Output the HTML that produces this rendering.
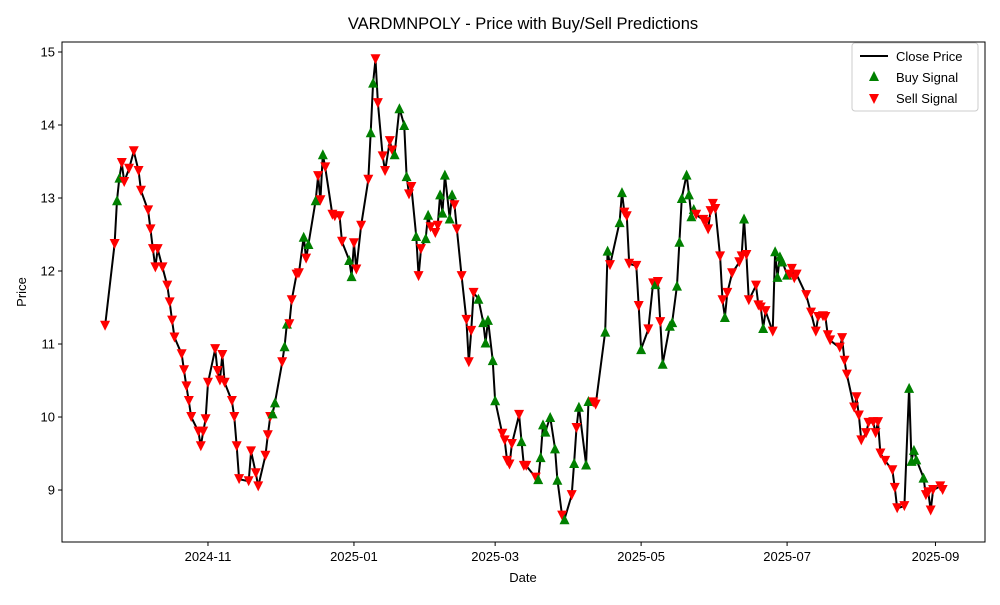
<!DOCTYPE html>
<html><head><meta charset="utf-8"><style>
body{margin:0;background:#fff;}
svg text{font-family:"Liberation Sans",sans-serif;fill:#000;}
</style></head><body>
<svg id="chart" width="1000" height="600" xmlns="http://www.w3.org/2000/svg">
<rect width="1000" height="600" fill="#fff"/>
<text x="523" y="29" font-size="16.5" text-anchor="middle">VARDMNPOLY - Price with Buy/Sell Predictions</text>
<g id="grid"></g>
<g id="series"></g>
<rect x="62" y="42" width="923" height="500" fill="none" stroke="#000" stroke-width="1"/>
<text x="523" y="582" font-size="13" text-anchor="middle">Date</text>
<text x="26" y="292" font-size="13" text-anchor="middle" transform="rotate(-90 26 292)">Price</text>
<g>
<rect x="852" y="43" width="126" height="68" fill="#fff" stroke="#ccc" rx="3"/>
<line x1="860" y1="56" x2="888" y2="56" stroke="#000" stroke-width="2"/>
<text x="896" y="61" font-size="13">Close Price</text>
<polygon points="874,71 869,81 879,81" fill="#008000"/>
<text x="896" y="82" font-size="13">Buy Signal</text>
<polygon points="869,94 879,94 874,104" fill="#ff0000"/>
<text x="896" y="103" font-size="13">Sell Signal</text>
</g>
</svg>
<script>
const days=[-43,-39,-38,-37,-36,-35,-33,-31,-29,-28,-25,-24,-23,-22,-21,-19,-17,-16,-15,-14,-11,-10,-9,-8,-7,-4,-3,-2,-1,0,3,4,5,6,7,10,11,12,13,17,18,20,21,24,25,26,27,28,31,32,33,34,35,37,38,40,41,42,45,46,47,48,49,52,53,55,56,59,60,61,62,64,67,68,69,70,71,73,74,76,77,78,80,82,83,84,85,87,88,89,91,92,93,95,96,97,98,99,101,102,103,104,106,108,109,110,111,113,115,116,117,119,120,123,124,125,126,127,130,131,132,133,137,138,139,140,141,143,145,146,148,149,152,153,154,155,158,159,161,162,166,167,168,172,173,174,175,176,179,180,181,184,186,187,188,189,190,193,194,196,197,198,200,201,202,203,204,207,208,209,210,211,212,214,215,216,217,219,222,223,224,225,226,229,230,231,232,233,236,237,238,239,240,242,243,244,245,246,250,252,254,255,257,258,259,260,264,265,266,267,270,271,272,273,275,276,278,279,280,281,283,286,287,288,291,293,294,295,296,299,300,301,302,303,306,307];
const close=[11.25,12.37,12.97,13.28,13.48,13.22,13.4,13.64,13.37,13.1,12.83,12.57,12.3,12.05,12.3,12.05,11.8,11.57,11.32,11.09,10.86,10.64,10.42,10.22,10.0,9.8,9.6,9.8,9.97,10.47,10.93,10.63,10.5,10.85,10.47,10.22,10.0,9.6,9.15,9.12,9.53,9.23,9.05,9.47,9.75,10.0,10.05,10.2,10.75,10.97,11.28,11.27,11.6,11.95,11.97,12.47,12.17,12.37,12.97,13.3,12.97,13.6,13.42,12.77,12.75,12.75,12.4,12.15,11.93,12.38,12.02,12.62,13.25,13.9,14.58,14.9,14.3,13.57,13.37,13.78,13.65,13.6,14.23,14.0,13.3,13.05,13.15,12.48,11.93,12.3,12.45,12.77,12.6,12.52,12.62,13.05,12.8,13.32,12.72,13.05,12.9,12.57,11.93,11.33,10.75,11.18,11.7,11.62,11.3,11.02,11.33,10.78,10.23,9.77,9.68,9.4,9.35,9.63,10.03,9.67,9.33,9.33,9.17,9.15,9.45,9.9,9.8,10.0,9.57,9.14,8.65,8.6,8.93,9.37,9.85,10.14,9.35,10.22,10.2,10.17,11.17,12.28,12.08,12.67,13.08,12.8,12.75,12.1,12.07,11.52,10.93,11.2,11.83,11.82,11.85,11.3,10.73,11.25,11.3,11.8,12.4,13.0,13.32,13.05,12.75,12.85,12.77,12.7,12.67,12.57,12.82,12.92,12.85,12.2,11.6,11.37,11.7,11.97,12.12,12.2,12.72,12.22,11.6,11.8,11.53,11.5,11.22,11.45,11.17,12.27,11.92,12.2,12.13,11.95,11.95,12.03,11.9,11.95,11.67,11.43,11.17,11.37,11.38,11.37,11.12,11.05,10.95,11.08,10.77,10.58,10.13,10.27,10.02,9.68,9.78,9.92,9.93,9.78,9.93,9.5,9.4,9.27,9.03,8.75,8.78,10.4,9.4,9.55,9.42,9.17,8.93,8.97,8.72,9.0,9.05,9.0];
const signalChunks=["SSBB","SSSSSSSSSSSSSSSSSSSSSSSSSSSSSSSSSSSSSSSSSS",
"BB","S","BB","SSSS","B","S","BB","SS","B","SSSSS","BB","SSSS","BB","SSSSSS","BBBB","SS","B","SS","BB","SSS","BBBBB","SSSSSSS",
"BBBBBB","SSSSSS","B","SSS","BBBBBBB","S","B","S","B","S","BBB","SS","BB","S","BB","SSSSS","B","SS","B","SS",
"BBBBBBBBBB","SSSSSSSSS","B","SSSS","B","SSSSS","B","SS","BBBBB",
"SSSSSSSSSSSSSSSSSSSSSSSSSSSSSSS","BBBBB","SSSSSS"];
const signal=signalChunks.join("").split("");
const yTicks=[9,10,11,12,13,14,15];
const xTickLabels=["2024-11","2025-01","2025-03","2025-05","2025-07","2025-09"];
const xTickDays=[0,61,120,181,242,304];

const NS="http://www.w3.org/2000/svg";
const L=62,R=985,T=42,B=542;
const X0=-61,X1=324.7,Y0=8.288,Y1=15.137;
const xs=d=>L+(d-X0)/(X1-X0)*(R-L);
const ys=v=>B-(v-Y0)/(Y1-Y0)*(B-T);
function mk(tag,attrs,parent){const e=document.createElementNS(NS,tag);for(const k in attrs)e.setAttribute(k,attrs[k]);parent.appendChild(e);return e;}
const grid=document.getElementById('grid');
yTicks.forEach(v=>{
  const y=ys(v);
  const t=mk('line',{x1:L-4,x2:L,y1:y,y2:y,stroke:'#000'},grid);
  
  
  const tx=mk('text',{x:L-7,y:y+4.5,'font-size':13,'text-anchor':'end'},grid);
  tx.textContent=v;
  
  
});
xTickDays.forEach((d,i)=>{
  const x=xs(d);
  const t=mk('line',{x1:x,x2:x,y1:B,y2:B+4,stroke:'#000'},grid);
  
  
  const tx=mk('text',{x:x,y:B+19,'font-size':13,'text-anchor':'middle'},grid);
  tx.textContent=xTickLabels[i];
  
  
});
const ser=document.getElementById('series');
const n=Math.min(days.length,close.length);
let pts=[];for(let i=0;i<n;i++)pts.push(xs(days[i]).toFixed(1)+','+ys(close[i]).toFixed(1));
const line=mk('polyline',{points:pts.join(' '),fill:'none',stroke:'#000','stroke-width':2,'stroke-linejoin':'round'},ser);


for(let i=0;i<n;i++){
  const x=xs(days[i]),y=ys(close[i]);
  let p;
  if(signal[i]==='B'){
    p=mk('polygon',{points:`${x},${y-5} ${x-5},${y+5} ${x+5},${y+5}`,fill:'#008000'},ser);
    
  }else{
    p=mk('polygon',{points:`${x-5},${y-5} ${x+5},${y-5} ${x},${y+5}`,fill:'#ff0000'},ser);
    
  }
  
}
</script>
</body></html>
